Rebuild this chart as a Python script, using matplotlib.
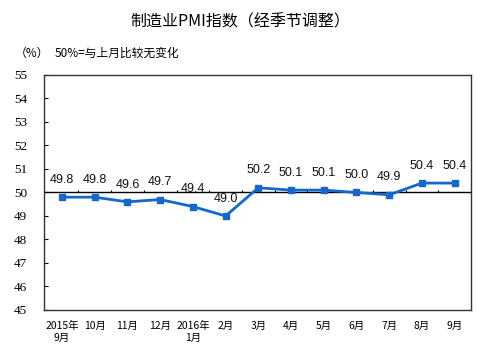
import matplotlib.pyplot as plt

# 制造业PMI指数（经季节调整）
months = ['2015年\n9月', '10月', '11月', '12月', '2016年\n1月', '2月', '3月',
          '4月', '5月', '6月', '7月', '8月', '9月']
pmi = [49.8, 49.8, 49.6, 49.7, 49.4, 49.0, 50.2, 50.1, 50.1, 50.0, 49.9, 50.4, 50.4]
yticks = [45, 46, 47, 48, 49, 50, 51, 52, 53, 54, 55]

cjk = ['Noto Sans CJK SC', 'DejaVu Sans']
blue = '#1468cc'

fig = plt.figure(figsize=(4.96, 3.57), dpi=100)
ax = fig.add_axes([0.0887, 0.1317, 0.8609, 0.6583])

x = list(range(len(months)))
ax.plot(x, pmi, color=blue, lw=2, marker='s', ms=4.5, zorder=3)

for xi, v in zip(x, pmi):
    ax.annotate(f'{v:.1f}', (xi, v), xytext=(0, 12.5), textcoords='offset points',
                ha='center', va='center', fontsize=9, family='Liberation Sans',
                color='#111111')

# 50% line with small category ticks
ax.axhline(50, color='black', lw=1, zorder=2)
ax.vlines([i + 0.5 for i in x[:-1]], 50, 50.12, color='black', lw=0.8, zorder=2)

ax.set_xlim(-0.55, len(months) - 0.5)
ax.set_ylim(45, 55)
ax.set_yticks(yticks)
ax.set_yticklabels([str(t) for t in yticks])
for lab in ax.get_yticklabels():
    lab.set_fontfamily('Liberation Serif')
    lab.set_fontsize(9.5)
ax.tick_params(axis='y', direction='in', length=3, pad=12, width=0.8)
ax.set_xticks(x)
ax.set_xticklabels(months)
for lab in ax.get_xticklabels():
    lab.set_fontfamily(cjk)
    lab.set_fontsize(7.5)
    lab.set_linespacing(1.2)
ax.tick_params(axis='x', length=0, pad=8)
for s in ax.spines.values():
    s.set_color('#333333')
    s.set_linewidth(1)

fig.text(0.484, 0.938, '制造业PMI指数（经季节调整）', ha='center', va='center',
         family=cjk, fontsize=11.5, fontweight='medium')
fig.text(0.03, 0.851, '（%）', ha='left', va='center', family=cjk, fontsize=8.5)
fig.text(0.111, 0.851, '50%=与上月比较无变化', ha='left', va='center',
         family=cjk, fontsize=8.5)

fig.savefig('out.png', dpi=100)
